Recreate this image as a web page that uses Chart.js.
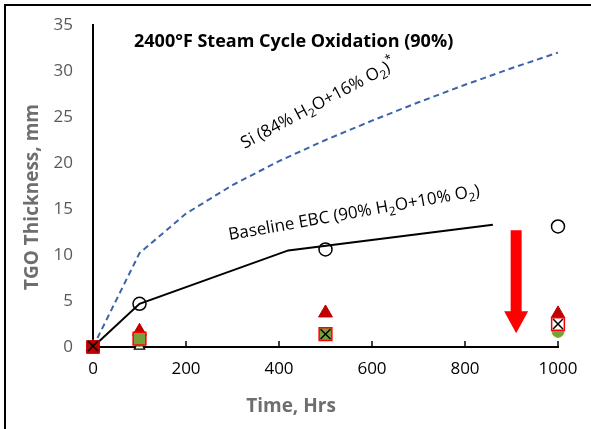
<!DOCTYPE html>
<html>
<head>
<meta charset="utf-8">
<script src="https://cdn.jsdelivr.net/npm/chart.js@4.4.0/dist/chart.umd.min.js"></script>
<style>
  html, body { margin: 0; padding: 0; background: #fff; }
  #wrap { width: 591px; height: 429px; position: relative; }
</style>
</head>
<body>
<div id="wrap"><canvas id="myChart"></canvas></div>
<script>
// TGO thickness vs time
const siHours = [0, 100, 200, 300, 400, 500, 600, 700, 800, 900, 1000];
const siThickness = [0, 10.2, 14.5, 17.6, 20.2, 22.5, 24.6, 26.6, 28.5, 30.3, 32];

const baselineHours = [0, 100, 420, 860];
const baselineThickness = [0, 4.7, 10.5, 13.3];

const circleHours = [100, 500, 1000];
const circleThickness = [4.7, 10.6, 13.1];

const redTriangleHours = [0, 100, 500, 1000];
const redTriangleThickness = [0, 1.7, 3.7, 3.6];

const redSquareHours = [0];
const redSquareThickness = [0];

const greenSquareHours = [100, 500];
const greenSquareThickness = [0.9, 1.4];

const whiteSquareHours = [1000];
const whiteSquareThickness = [2.5];

const crossHours = [0, 500, 1000];
const crossThickness = [0.1, 1.4, 2.5];

const greenCircleHours = [100, 1000];
const greenCircleThickness = [0.7, 1.7];

const openTriangleHours = [100];
const openTriangleThickness = [0.1];

// red arrow (hours, top value, tip value)
const arrowHours = [910];
const arrowTop = [12.7];
const arrowTip = [1.5];

const yTicks = [0, 5, 10, 15, 20, 25, 30, 35];
const xTicks = [0, 200, 400, 600, 800, 1000];

function toPoints(xs, ys) {
  let pts = [];
  for (let i = 0; i < xs.length; i++) {
    pts.push({ x: xs[i], y: ys[i] });
  }
  return pts;
}

function markerSet(xs, ys, style, bg, border, radius, width) {
  return {
    type: "scatter",
    data: toPoints(xs, ys),
    pointStyle: style,
    pointRadius: radius,
    pointBackgroundColor: bg,
    pointBorderColor: border,
    pointBorderWidth: width,
    showLine: false,
    clip: false,
  };
}

const extras = {
  id: "extras",
  afterDatasetsDraw(chart) {
    const ctx = chart.ctx;
    const xs = chart.scales.x;
    const ys = chart.scales.y;
    ctx.save();

    // red arrow
    for (let i = 0; i < arrowHours.length; i++) {
      let ax = xs.getPixelForValue(arrowHours[i]);
      let top = ys.getPixelForValue(arrowTop[i]);
      let tip = ys.getPixelForValue(arrowTip[i]);
      let headTop = tip - 22;
      ctx.fillStyle = "#ff0000";
      ctx.beginPath();
      ctx.moveTo(ax - 5.5, top);
      ctx.lineTo(ax + 5.5, top);
      ctx.lineTo(ax + 5.5, headTop);
      ctx.lineTo(ax + 12, headTop);
      ctx.lineTo(ax, tip);
      ctx.lineTo(ax - 12, headTop);
      ctx.lineTo(ax - 5.5, headTop);
      ctx.closePath();
      ctx.fill();
    }

    // title
    ctx.fillStyle = "#000";
    ctx.font = "bold 18px 'Open Sans'";
    ctx.textAlign = "left";
    ctx.textBaseline = "middle";
    ctx.fillText("2400°F Steam Cycle Oxidation (90%)", 134, 42);

    // axis titles
    ctx.fillStyle = "#6e6e6e";
    ctx.font = "bold 19px 'Open Sans'";
    ctx.textAlign = "center";
    ctx.fillText("Time, Hrs", 291, 407);
    ctx.save();
    ctx.translate(33, 197);
    ctx.rotate(-Math.PI / 2);
    ctx.fillText("TGO Thickness, mm", 0, 0);
    ctx.restore();
    ctx.fillStyle = "#000";
    ctx.textAlign = "left";

    // rotated line labels
    function subLabel(parts, cx, cy, angle, size) {
      ctx.save();
      ctx.translate(cx, cy);
      ctx.rotate(angle);
      ctx.textBaseline = "alphabetic";
      let small = Math.round(size * 0.72);
      let total = 0;
      for (const p of parts) {
        ctx.font = (p.sub || p.sup ? small : size) + "px 'Open Sans'";
        total += ctx.measureText(p.t).width;
      }
      let x = -total / 2;
      for (const p of parts) {
        ctx.font = (p.sub || p.sup ? small : size) + "px 'Open Sans'";
        let dy = p.sub ? 4 : p.sup ? -8 : 0;
        ctx.fillText(p.t, x, 6 + dy);
        x += ctx.measureText(p.t).width;
      }
      ctx.restore();
    }
    subLabel(
      [{ t: "Si (84% H" }, { t: "2", sub: true }, { t: "O+16% O" }, { t: "2", sub: true }, { t: ")" }, { t: "*", sup: true }],
      318, 103, -0.49, 17
    );
    subLabel(
      [{ t: "Baseline EBC (90% H" }, { t: "2", sub: true }, { t: "O+10% O" }, { t: "2", sub: true }, { t: ")" }],
      354, 212, -0.175, 17
    );

    // frame
    ctx.strokeStyle = "#000";
    ctx.lineWidth = 2;
    ctx.strokeRect(5, 5, 600, 440);
    ctx.restore();
  },
};

new Chart(document.getElementById("myChart"), {
  type: "scatter",
  data: {
    // first dataset is drawn on top
    datasets: [
      markerSet(crossHours, crossThickness, "crossRot", "#000", "#000", 7, 1.5),
      markerSet(whiteSquareHours, whiteSquareThickness, "rect", "#fff", "#ff0000", 9, 1.5),
      markerSet(greenSquareHours, greenSquareThickness, "rect", "#77a03a", "#ff0000", 9, 1.5),
      markerSet(redSquareHours, redSquareThickness, "rect", "#c00000", "#c00000", 9, 1),
      markerSet(greenCircleHours, greenCircleThickness, "circle", "#77a03a", "#77a03a", 6, 1),
      markerSet(redTriangleHours, redTriangleThickness, "triangle", "#c00000", "#c00000", 8, 1),
      markerSet(openTriangleHours, openTriangleThickness, "triangle", "#fff", "#000", 6, 1.2),
      markerSet(circleHours, circleThickness, "circle", "rgba(255,255,255,0)", "#000", 6.5, 1.5),
      {
        type: "line",
        data: toPoints(baselineHours, baselineThickness),
        borderColor: "#000",
        borderWidth: 2,
        pointRadius: 0,
        tension: 0,
        fill: false,
        clip: false,
      },
      {
        type: "line",
        data: toPoints(siHours, siThickness),
        borderColor: "#3d63a8",
        borderWidth: 2,
        borderDash: [6, 4],
        pointRadius: 0,
        tension: 0,
        fill: false,
        clip: false,
      },
    ],
  },
  options: {
    responsive: true,
    maintainAspectRatio: false,
    animation: false,
    layout: {
      padding: { top: 25, right: 33, left: 0, bottom: 0 },
    },
    scales: {
      x: {
        type: "linear",
        min: 0,
        max: 1000,
        afterBuildTicks: (axis) => {
          axis.ticks = xTicks.map((v) => ({ value: v }));
        },
        afterFit: (axis) => {
          axis.height = 82;
        },
        grid: {
          display: true,
          drawOnChartArea: false,
          drawTicks: true,
          tickLength: 0,
          color: "#000",
        },
        border: { display: true, color: "#000", width: 2 },
        ticks: {
          color: "#000",
          font: { family: "Open Sans", size: 17 },
          padding: 12,
          maxRotation: 0,
          callback: (v) => String(v),
        },
        title: { display: false },
      },
      y: {
        type: "linear",
        min: 0,
        max: 35,
        afterBuildTicks: (axis) => {
          axis.ticks = yTicks.map((v) => ({ value: v }));
        },
        afterFit: (axis) => {
          axis.width = 93;
        },
        grid: { display: false },
        border: { display: true, color: "#000", width: 2 },
        ticks: {
          color: "#595959",
          font: { family: "Open Sans", size: 17 },
          padding: 12,
        },
        title: { display: false },
      },
    },
    plugins: {
      legend: { display: false },
      tooltip: { enabled: false },
    },
  },
  plugins: [
    {
      id: "xTickMarks",
      afterDraw(chart) {
        const ctx = chart.ctx;
        const xs = chart.scales.x;
        const bottom = chart.chartArea.bottom;
        ctx.save();
        ctx.strokeStyle = "#000";
        ctx.lineWidth = 1.5;
        for (const v of xTicks) {
          if (v === 0) continue;
          let px = xs.getPixelForValue(v);
          ctx.beginPath();
          ctx.moveTo(px, bottom);
          ctx.lineTo(px, bottom - 6);
          ctx.stroke();
        }
        ctx.restore();
      },
    },
    extras,
  ],
});
</script>
</body>
</html>
